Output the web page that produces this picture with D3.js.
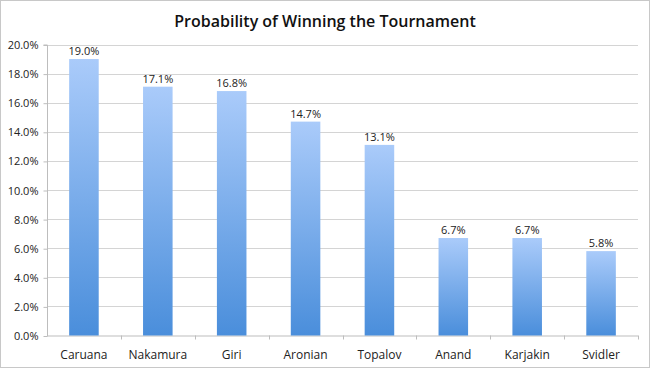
<!DOCTYPE html>
<html><head><meta charset="utf-8">
<script src="https://cdn.jsdelivr.net/npm/d3@7"></script>
<style>
html,body{margin:0;padding:0;background:#fff;}
svg{display:block;}
</style></head>
<body>
<script>
const players = ["Caruana","Nakamura","Giri","Aronian","Topalov","Anand","Karjakin","Svidler"];
const probabilities = [19.0,17.1,16.8,14.7,13.1,6.7,6.7,5.8];
const yTicks = [0,2,4,6,8,10,12,14,16,18,20];
const title = "Probability of Winning the Tournament";

(function(){
const W = 650, H = 368;
const svg = d3.select("body").append("svg").attr("width", W).attr("height", H);

const defs = svg.append("defs");
const grad = defs.append("linearGradient").attr("id","barGrad")
  .attr("x1",0).attr("y1",0).attr("x2",0).attr("y2",1);
grad.append("stop").attr("offset","0%").attr("stop-color","#aacbfa");
grad.append("stop").attr("offset","100%").attr("stop-color","#4a8edb");

svg.append("rect").attr("x",0.5).attr("y",0.5).attr("width",W-1).attr("height",H-1)
  .attr("fill","#fff").attr("stroke","#c8c8c8");

const pLeft = 47, pRight = 638, pTop = 44.5, pBottom = 335.5;
const x = d3.scaleBand().domain(players).range([pLeft, pRight]).paddingInner(0.6).paddingOuter(0.3);
const y = d3.scaleLinear().domain([0,20]).range([pBottom, pTop]);

const font = "'Open Sans', 'Liberation Sans', sans-serif";

// gridlines
svg.append("g").selectAll("line").data(yTicks.filter(d=>d>0)).join("line")
  .attr("x1", pLeft).attr("x2", pRight)
  .attr("y1", d=>Math.round(y(d))+0.5).attr("y2", d=>Math.round(y(d))+0.5)
  .attr("stroke","#d4d4d4").attr("stroke-width",1);

// y axis
const yAxis = d3.axisLeft(y).tickValues(yTicks).tickFormat(d=>d.toFixed(1)+"%").tickSize(4).tickPadding(5);
const gy = svg.append("g").attr("transform",`translate(${pLeft+0.5},0.5)`).call(yAxis);
gy.select(".domain").attr("stroke","#bdbdbd").attr("d",`M-4,${y(20)}H0V${pBottom}`);
gy.selectAll(".tick line").attr("stroke","#bdbdbd");
gy.selectAll(".tick text").attr("font-family",font).attr("font-size",11).attr("fill","#222");

// x axis
const xb = d3.scaleBand().domain(players).range([pLeft,pRight]);
const gx = svg.append("g").attr("transform",`translate(0,${pBottom})`);
gx.append("line").attr("x1",pLeft).attr("x2",pRight).attr("y1",0.5).attr("y2",0.5).attr("stroke","#bdbdbd");
gx.selectAll(".tk").data(players).join("line").attr("class","tk")
  .attr("x1",(d,i)=>Math.round(pLeft + xb.step()*(i+1))+0.5)
  .attr("x2",(d,i)=>Math.round(pLeft + xb.step()*(i+1))+0.5)
  .attr("y1",0).attr("y2",4).attr("stroke","#bdbdbd");
gx.selectAll("text").data(players).join("text")
  .attr("x", d=>x(d)+x.bandwidth()/2).attr("y", 23)
  .attr("text-anchor","middle").attr("font-family",font).attr("font-size",12).attr("fill","#222")
  .text(d=>d);

// bars
svg.append("g").selectAll("rect").data(players).join("rect")
  .attr("x", d=>x(d)).attr("width", x.bandwidth())
  .attr("y", (d,i)=>y(probabilities[i])).attr("height",(d,i)=>pBottom - y(probabilities[i]))
  .attr("fill","url(#barGrad)");

// labels
svg.append("g").selectAll("text").data(players).join("text")
  .attr("x", d=>x(d)+x.bandwidth()/2).attr("y",(d,i)=>y(probabilities[i])-4)
  .attr("text-anchor","middle").attr("font-family",font).attr("font-size",11).attr("fill","#222")
  .text((d,i)=>probabilities[i].toFixed(1)+"%");

svg.append("text").attr("x", 325).attr("y", 27).attr("text-anchor","middle")
  .attr("font-family",font).attr("font-weight",600).attr("font-size",16).attr("fill","#111")
  .text(title);
})();
</script>
</body></html>
